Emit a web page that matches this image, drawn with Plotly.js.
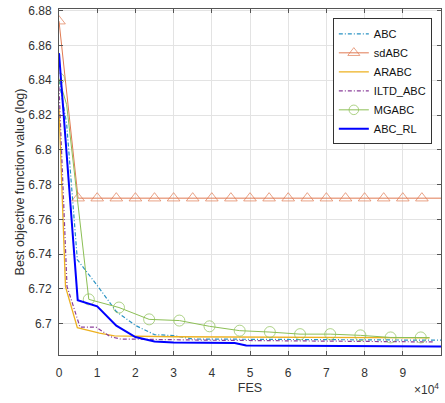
<!DOCTYPE html>
<html><head><meta charset="utf-8">
<script src="https://cdn.plot.ly/plotly-3.0.1.min.js"></script>
<style>html,body{margin:0;padding:0;background:#fff}#chart{width:445px;height:403px}</style>
</head><body><div id="chart"></div>
<script>
// Series names
const seriesNames = ['ABC', 'sdABC', 'ARABC', 'ILTD_ABC', 'MGABC', 'ABC_RL'];

// ABC
const abcX = [0, 2000, 4800, 10000, 15000, 20000, 25000, 30000, 35000, 100000];
const abcY = [6.840, 6.815, 6.7368, 6.722, 6.707, 6.699, 6.6937, 6.6932, 6.6912, 6.6905];

// sdABC
const sdX = [0, 5000, 10000, 15000, 20000, 25000, 30000, 35000, 40000, 45000, 50000,
             55000, 60000, 65000, 70000, 75000, 80000, 85000, 90000, 95000, 100000];
const sdY = [6.874, 6.7722, 6.7722, 6.7722, 6.7722, 6.7722, 6.7722, 6.7722, 6.7722, 6.7722, 6.7722,
             6.7722, 6.7722, 6.7722, 6.7722, 6.7722, 6.7722, 6.7722, 6.7722, 6.7722, 6.7722];
const sdMarked = [1,1,1,1,1,1,1,1,1,1,1,1,1,1,1,1,1,1,1,1,0];

// ARABC
const arX = [0, 1700, 4800, 7100, 10600, 14500, 30000, 97000];
const arY = [6.824, 6.7213, 6.6977, 6.6963, 6.6946, 6.693, 6.6925, 6.6918];

// ILTD_ABC
const iltdX = [0, 2100, 5500, 9700, 13500, 16000, 40000, 98000];
const iltdY = [6.836, 6.7215, 6.698, 6.698, 6.6925, 6.6912, 6.6905, 6.6895];

// MGABC
const mgX = [0, 2000, 7800, 15700, 23600, 31500, 39400, 47300, 55200, 63100, 71000, 78900, 86800, 94700, 97000];
const mgY = [6.841, 6.826, 6.714, 6.7093, 6.7025, 6.7018, 6.6985, 6.696, 6.6952, 6.694, 6.694, 6.6933, 6.6921, 6.6921, 6.692];
const mgMarked = [1,0,1,1,1,1,1,1,1,1,1,1,1,1,0];

// ABC_RL
const rlX = [0, 4900, 10000, 15000, 20000, 25000, 30000, 46000, 49000, 100000];
const rlY = [6.8556, 6.7135, 6.7100, 6.6989, 6.6923, 6.6898, 6.6892, 6.6889, 6.6875, 6.6869];

// Axis ticks
const xTickVals = [0, 10000, 20000, 30000, 40000, 50000, 60000, 70000, 80000, 90000];
const xTickText = ['0', '1', '2', '3', '4', '5', '6', '7', '8', '9'];
const yTickVals = [6.70, 6.72, 6.74, 6.76, 6.78, 6.80, 6.82, 6.84, 6.86, 6.88];
const yTickText = ['6.7', '6.72', '6.74', '6.76', '6.78', '6.8', '6.82', '6.84', '6.86', '6.88'];

const dashDot = '4px,2px,1px,2px';
const FONT = 'Liberation Sans, Arial, sans-serif';

const traces = [
  {x: abcX, y: abcY, name: seriesNames[0], mode: 'lines',
   line: {color: '#2a93c4', width: 1.2, dash: dashDot}},
  {x: sdX, y: sdY, name: seriesNames[1], mode: 'lines+markers',
   line: {color: '#e07a52', width: 1},
   marker: {symbol: 'triangle-up-open', size: sdMarked.map(m => m ? 11 : 0), color: '#e07a52', line: {width: 1}}},
  {x: arX, y: arY, name: seriesNames[2], mode: 'lines',
   line: {color: '#EDB120', width: 1.3}},
  {x: iltdX, y: iltdY, name: seriesNames[3], mode: 'lines',
   line: {color: '#8a3f9a', width: 1.2, dash: dashDot}},
  {x: mgX, y: mgY, name: seriesNames[4], mode: 'lines+markers',
   line: {color: '#8cbf55', width: 1},
   marker: {symbol: 'circle-open', size: mgMarked.map(m => m ? 11 : 0), color: '#8cbf55', line: {width: 1}}},
  {x: rlX, y: rlY, name: seriesNames[5], mode: 'lines',
   line: {color: '#0000FF', width: 2}}
];

const layout = {
  width: 445, height: 403,
  margin: {l: 59, r: 4, t: 9, b: 48, pad: 0},
  paper_bgcolor: '#fff', plot_bgcolor: '#fff',
  font: {family: FONT, size: 11, color: '#333'},
  showlegend: true,
  legend: {x: 0.976, xanchor: 'right', y: 0.973, yanchor: 'top',
           bgcolor: '#fff', bordercolor: '#333', borderwidth: 1,
           font: {family: FONT, size: 11, color: '#111'}},
  xaxis: {
    range: [0, 100000], tickvals: xTickVals, ticktext: xTickText,
    showgrid: true, gridcolor: '#e3e3e3', gridwidth: 1, zeroline: false,
    showline: true, linecolor: '#555', linewidth: 1, mirror: 'ticks',
    ticks: 'inside', ticklen: 4, tickcolor: '#555', ticklabelstandoff: 7,
    tickfont: {family: FONT, size: 12, color: '#333'},
    title: {text: 'FES', font: {family: FONT, size: 12.5, color: '#333'}, standoff: 3}
  },
  yaxis: {
    range: [6.682, 6.881], tickvals: yTickVals, ticktext: yTickText,
    showgrid: true, gridcolor: '#e3e3e3', gridwidth: 1, zeroline: false,
    showline: true, linecolor: '#555', linewidth: 1, mirror: 'ticks',
    ticks: 'inside', ticklen: 4, tickcolor: '#555', ticklabelstandoff: 4,
    tickfont: {family: FONT, size: 12, color: '#333'},
    title: {text: 'Best objective function value (log)', font: {family: FONT, size: 12.5, color: '#333'}, standoff: 0}
  },
  annotations: [{
    xref: 'paper', yref: 'paper', x: 1.0, y: -0.097, xanchor: 'right', yanchor: 'middle',
    text: '\u00d710<sup>4</sup>', showarrow: false,
    font: {family: FONT, size: 12, color: '#333'}
  }]
};

Plotly.newPlot('chart', traces, layout, {displayModeBar: false, staticPlot: true});
</script></body></html>
